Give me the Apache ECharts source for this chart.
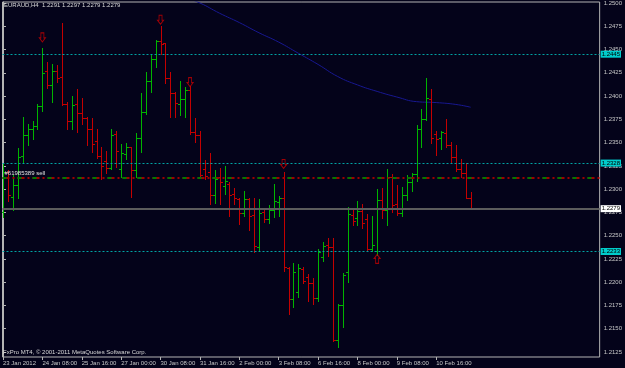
<!DOCTYPE html>
<html><head><meta charset="utf-8">
<script src="https://cdn.jsdelivr.net/npm/echarts@6/dist/echarts.min.js"></script>
<style>html,body{margin:0;padding:0;background:#04031a;}#c{width:625px;height:368px;}</style>
</head><body><div id="c"></div>
<script>
// ---- data (EURAUD H4 bars) ----
const opens=[1.2275,1.2318,1.2292,1.2304,1.2336,1.2358,1.2365,1.2368,1.2389,1.2427,
1.2412,1.2427,1.2421,1.2391,1.2373,1.2391,1.2382,1.2376,1.2365,1.2352,
1.2336,1.2330,1.2323,1.2359,1.2322,1.2338,1.2345,1.2321,1.2355,1.2383,
1.2416,1.2440,1.2459,1.2457,1.2419,1.2403,1.2392,1.2397,1.2407,1.2361,
1.2358,1.2322,1.2318,1.2294,1.2313,1.2303,1.2306,1.2295,1.2289,1.2274,
1.2289,1.2272,1.2238,1.2275,1.2268,1.2278,1.2286,1.2290,1.2215,1.2182,
1.2189,1.2214,1.2206,1.2199,1.2183,1.2227,1.2240,1.2238,1.2138,1.2176,
1.2211,1.2272,1.2269,1.2277,1.2268,1.2236,1.2234,1.2288,1.2278,1.2313,
1.2284,1.2274,1.2294,1.2308,1.2316,1.2365,1.2375,1.2397,1.2359,1.2355,
1.2360,1.2347,1.2334,1.2322,1.2317,1.2291];
const highs=[1.2328,1.2321,1.2315,1.2344,1.2378,1.2370,1.2373,1.2392,1.2452,1.2437,
1.2434,1.2433,1.2479,1.2394,1.2400,1.2408,1.2398,1.2377,1.2376,1.2365,
1.2345,1.2341,1.2365,1.2362,1.2349,1.2350,1.2345,1.2360,1.2403,1.2426,
1.2445,1.2460,1.2475,1.2457,1.2426,1.2404,1.2416,1.2410,1.2411,1.2376,
1.2363,1.2331,1.2339,1.2321,1.2323,1.2325,1.2308,1.2301,1.2290,1.2298,
1.2290,1.2290,1.2289,1.2279,1.2283,1.2306,1.2293,1.2318,1.2216,1.2221,
1.2220,1.2216,1.2209,1.2204,1.2236,1.2243,1.2248,1.2248,1.2177,1.2210,
1.2281,1.2280,1.2287,1.2284,1.2273,1.2271,1.2300,1.2301,1.2322,1.2316,
1.2304,1.2302,1.2315,1.2317,1.2369,1.2386,1.2419,1.2408,1.2363,1.2362,
1.2375,1.2351,1.2347,1.2332,1.2328,1.2297];
const lows=[1.2270,1.2287,1.2278,1.2291,1.2329,1.2347,1.2354,1.2365,1.2384,1.2409,
1.2394,1.2415,1.2390,1.2365,1.2365,1.2361,1.2370,1.2347,1.2340,1.2333,
1.2311,1.2317,1.2322,1.2324,1.2313,1.2332,1.2292,1.2313,1.2340,1.2381,
1.2404,1.2431,1.2445,1.2414,1.2377,1.2378,1.2380,1.2378,1.2359,1.2351,
1.2313,1.2311,1.2284,1.2285,1.2284,1.2295,1.2271,1.2284,1.2263,1.2271,
1.2256,1.2232,1.2234,1.2265,1.2264,1.2270,1.2271,1.2212,1.2166,1.2173,
1.2184,1.2199,1.2180,1.2177,1.2180,1.2223,1.2228,1.2137,1.2130,1.2152,
1.2200,1.2262,1.2261,1.2258,1.2234,1.2234,1.2229,1.2269,1.2262,1.2275,
1.2272,1.2271,1.2288,1.2298,1.2309,1.2345,1.2374,1.2350,1.2337,1.2343,
1.2345,1.2329,1.2319,1.2313,1.2291,1.2279];
const closes=[1.2318,1.2294,1.2304,1.2334,1.2358,1.2365,1.2368,1.2389,1.2425,1.2412,
1.2427,1.2419,1.2392,1.2373,1.2390,1.2382,1.2376,1.2365,1.2349,1.2336,
1.2325,1.2323,1.2358,1.2341,1.2339,1.2345,1.2321,1.2355,1.2383,1.2416,
1.2440,1.2459,1.2456,1.2419,1.2403,1.2393,1.2397,1.2407,1.2361,1.2358,
1.2315,1.2314,1.2294,1.2311,1.2308,1.2309,1.2294,1.2291,1.2274,1.2289,
1.2271,1.2239,1.2274,1.2268,1.2278,1.2287,1.2290,1.2216,1.2182,1.2211,
1.2215,1.2201,1.2199,1.2183,1.2232,1.2239,1.2238,1.2138,1.2176,1.2208,
1.2273,1.2266,1.2277,1.2264,1.2236,1.2240,1.2288,1.2278,1.2313,1.2283,
1.2274,1.2294,1.2308,1.2316,1.2365,1.2375,1.2398,1.2355,1.2354,1.2361,
1.2347,1.2334,1.2322,1.2317,1.2291,1.2279];

// moving average (bar index, price)
const maIdx=[36,40,44,48,52,56,60,64,68,72,76,80,84,88,92,95];
const maVals=[1.2508,1.2500,1.2489,1.2479,1.2468,1.2458,1.2446,1.2434,1.2421,1.2412,1.2405,1.2399,1.2394,1.2393,1.2391,1.2388];

// fractal arrows
const fractalIdx=[8,32,38,57,76];
const fractalPrice=[1.2463,1.2482,1.2415,1.2327,1.2225];
const fractalDir=['down','down','down','down','up'];

// horizontal levels
const cyanLevels=[1.2445,1.2328,1.2233];
const bidPrice=1.2279;
const orderPrice=1.2312;
const orderLabel='#61985389 sell';

// axis ticks
const xTickIdx=[0,8,16,24,32,40,48,56,64,72,80,88];
const xTickLabels=['23 Jan 2012','24 Jan 08:00','25 Jan 16:00','27 Jan 00:00','30 Jan 08:00','31 Jan 16:00','2 Feb 00:00','3 Feb 08:00','6 Feb 16:00','8 Feb 00:00','9 Feb 08:00','10 Feb 16:00'];
const yTicks=[1.2125,1.2150,1.2175,1.2200,1.2225,1.2250,1.2275,1.2300,1.2325,1.2350,1.2375,1.2400,1.2425,1.2450,1.2475,1.2500];

// ---- chart ----
const FONT='Liberation Sans';
const UP='#00b400', DOWN='#c40000';
const bars=opens.map((o,i)=>[i,o,highs[i],lows[i],closes[i]]);
const downArrow='path://M2,0 L6,0 L6,5 L8,5 L4,9 L0,5 L2,5 Z';
const upArrow='path://M4,0 L8,4 L6,4 L6,9 L2,9 L2,4 L0,4 Z';
const last=opens.length-1;
const title='EURAUD,H4  '+[opens[last],highs[last],lows[last],closes[last]].map(v=>v.toFixed(4)).join(' ');

const chart=echarts.init(document.getElementById('c'),null,{renderer:'canvas'});
const lblBox=(v,bg)=>({show:true,position:'end',distance:1,formatter:v.toFixed(4),backgroundColor:bg,color:'#000',fontSize:6,fontFamily:FONT,padding:[1,1,0,1]});
chart.setOption({
  backgroundColor:'#04031a',
  animation:false,
  textStyle:{fontFamily:FONT},
  grid:{left:2,right:23,top:1,bottom:11,show:true,borderColor:'#b4b4b4',borderWidth:1,backgroundColor:'transparent'},
  xAxis:{type:'value',min:-0.1,max:121.2,
    axisLine:{show:false},splitLine:{show:false},
    axisTick:{show:true,customValues:xTickIdx,length:3,lineStyle:{color:'#b4b4b4'}},
    axisLabel:{show:true,customValues:xTickIdx,formatter:v=>xTickLabels[xTickIdx.indexOf(Math.round(v))]||'',align:'left',margin:3,color:'#c8c8c8',fontSize:6,fontFamily:FONT}},
  yAxis:{type:'value',position:'right',min:1.211964,max:1.250107,
    axisLine:{show:true,lineStyle:{color:'#b4b4b4'}},splitLine:{show:false},
    axisTick:{show:true,customValues:yTicks,length:3,lineStyle:{color:'#b4b4b4'}},
    axisLabel:{show:true,customValues:yTicks,formatter:v=>v.toFixed(4),margin:4,color:'#c8c8c8',fontSize:6,fontFamily:FONT}},
  graphic:[
    {type:'text',left:4,top:2,z:10,style:{text:title,fill:'#d8d8d8',fontSize:6,fontFamily:FONT}},
    {type:'text',left:3,top:349,z:10,style:{text:'FxPro MT4, © 2001-2011 MetaQuotes Software Corp.',fill:'#d8d8d8',fontSize:6,fontFamily:FONT}}
  ],
  series:[
    {type:'custom',name:'bars',clip:true,data:bars,encode:{x:0,y:[1,2,3,4]},silent:true,z:3,
     renderItem:function(params,api){
       const i=api.value(0),o=api.value(1),h=api.value(2),l=api.value(3),c=api.value(4);
       const pH=api.coord([i,h]),pL=api.coord([i,l]),pO=api.coord([i,o]),pC=api.coord([i,c]);
       const x=Math.round(pH[0])+0.5;
       const col=c>=o?UP:DOWN;
       const yo=Math.round(pO[1])+0.5, yc=Math.round(pC[1])+0.5;
       return {type:'group',children:[
         {type:'line',shape:{x1:x,y1:Math.round(pH[1]),x2:x,y2:Math.round(pL[1])+1},style:{stroke:col,lineWidth:1}},
         {type:'line',shape:{x1:x-2.5,y1:yo,x2:x,y2:yo},style:{stroke:col,lineWidth:1}},
         {type:'line',shape:{x1:x,y1:yc,x2:x+2.5,y2:yc},style:{stroke:col,lineWidth:1}}
       ]};
     }},
    {type:'line',name:'MA',data:maIdx.map((x,i)=>[x,maVals[i]]),smooth:true,symbol:'none',clip:true,z:2,silent:true,
     lineStyle:{color:'#181890',width:1},
     markLine:{silent:true,symbol:['none','none'],animation:false,precision:6,
       data:[
         ...cyanLevels.map(v=>({yAxis:v,lineStyle:{color:'#00a4a4',type:[2,2],width:1},label:lblBox(v,'#00cccc')})),
         {yAxis:bidPrice,lineStyle:{color:'#5c5c5c',type:'solid',width:2},label:lblBox(bidPrice,'#ffffff')},
         {yAxis:orderPrice,lineStyle:{color:'#a00000',type:[7,3,2,3],width:2},
          label:{show:true,position:'insideStartTop',distance:2,formatter:orderLabel,color:'#e0e0e0',fontSize:6,fontFamily:FONT}},
         {yAxis:orderPrice,lineStyle:{color:'#007a00',type:[4,11],width:2},label:{show:false}}
       ]}},
    {type:'scatter',name:'fractals',silent:true,z:4,symbolSize:[6,9],
     data:fractalIdx.map((x,i)=>({value:[x,fractalPrice[i]],symbol:fractalDir[i]==='down'?downArrow:upArrow})),
     itemStyle:{color:'rgba(0,0,0,0)',borderColor:'#c80000',borderWidth:1}}
  ]
});
</script></body></html>
